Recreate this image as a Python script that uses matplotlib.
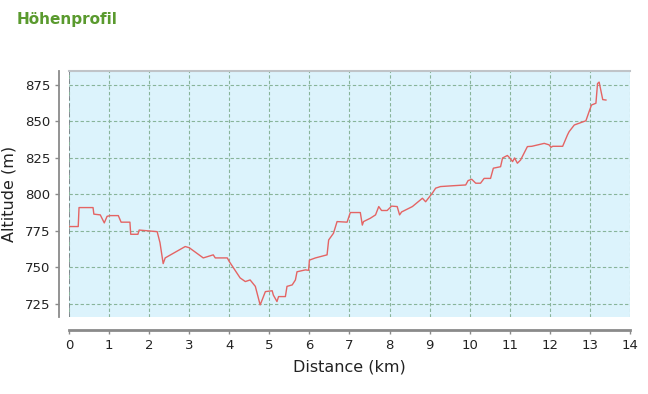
import matplotlib
matplotlib.use('Agg')
import matplotlib.pyplot as plt

# elevation profile
dist_km = [0.0, 0.23, 0.25, 0.6, 0.62, 0.78, 0.88, 0.95, 1.03, 1.23, 1.3, 1.52, 1.54, 1.72, 1.75,
           2.2, 2.27, 2.35, 2.4, 2.9, 3.0, 3.35, 3.6, 3.65, 3.95, 4.0, 4.27, 4.4, 4.52, 4.65, 4.77,
           4.82, 4.9, 5.07, 5.1, 5.19, 5.23, 5.4, 5.44, 5.57, 5.65, 5.69, 5.9, 5.98, 6.0, 6.15,
           6.44, 6.48, 6.6, 6.69, 6.94, 7.02, 7.27, 7.32, 7.35, 7.52, 7.65, 7.73, 7.8, 7.94, 8.05,
           8.19, 8.25, 8.3, 8.57, 8.82, 8.9, 9.07, 9.15, 9.27, 9.6, 9.9, 9.96, 10.05, 10.15, 10.27,
           10.36, 10.52, 10.59, 10.77, 10.82, 10.94, 11.0, 11.07, 11.12, 11.19, 11.27, 11.44, 11.55,
           11.86, 11.98, 12.03, 12.07, 12.32, 12.44, 12.48, 12.61, 12.9, 12.98, 13.04, 13.15, 13.19,
           13.23, 13.32, 13.4]
alt_m = [778, 778, 791, 791, 786.5, 786, 780.5, 785, 785.5, 785.5, 781, 781, 772.7, 772.7, 775.6,
         774.5, 767, 752.6, 756.5, 764.3, 763.5, 756.5, 758.6, 756.5, 756.5, 754, 742.8, 740.3, 741.4,
         737, 724.3, 727.7, 733.4, 734, 731, 726.6, 730, 730, 737, 738, 741.4, 747, 748.3, 748,
         755, 756.5, 758.6, 768.8, 773.4, 781.4, 781, 787.6, 787.6, 779, 781.4, 783.7, 786, 791.7,
         789, 789, 792, 791.7, 786, 788, 791.7, 797.4, 795, 801, 804.3, 805.4, 806, 806.5, 809.5,
         810.4, 807.7, 807.7, 811, 811, 818, 819, 825, 826.7, 825, 822.5, 825, 821.4, 823.6, 832.8,
         833, 835, 834, 832.3, 833, 833, 840.8, 843, 847.6, 850.5, 856.8, 861.3, 862.5, 876, 877,
         865, 864.7]

x_ticks = list(range(0, 15))
y_ticks = [725, 750, 775, 800, 825, 850, 875]

fig = plt.figure(figsize=(6.48, 3.94), dpi=100)
ax = fig.add_axes([0.1065, 0.1954, 0.8657, 0.6244])
ax.set_facecolor('#dcf3fc')

ax.plot(dist_km, alt_m, color='#e46464', linewidth=1.0, zorder=3)

ax.set_xlim(0, 14)
ax.set_ylim(716, 884.6)
ax.set_xticks(x_ticks)
ax.set_yticks(y_ticks)
ax.grid(True, color='#88b49a', linestyle=(0, (3, 2)), linewidth=0.8)
ax.axvline(0, color='#7a8088', linestyle=(0, (3, 2)), linewidth=1.2, zorder=2)

ax.spines['top'].set_color('#c0c4c8')
ax.spines['top'].set_linewidth(1.5)
ax.spines['right'].set_visible(False)
ax.spines['left'].set_position(('outward', 7))
ax.spines['bottom'].set_position(('outward', 9))
ax.spines['left'].set_color('#8a8a8a')
ax.spines['bottom'].set_color('#8a8a8a')
ax.spines['left'].set_linewidth(1.3)
ax.spines['bottom'].set_linewidth(2)
ax.tick_params(axis='both', colors='#8a8a8a', labelcolor='#222222', labelsize=9.5, length=3, width=1)

ax.set_xlabel('Distance (km)', fontsize=11.5, color='#222222', labelpad=6)
ax.set_ylabel('Altitude (m)', fontsize=11.5, color='#222222', labelpad=6)

fig.text(0.026, 0.95, 'Höhenprofil', fontsize=11, fontweight='bold', color='#5a9a2e', va='center')

fig.savefig('out.png', dpi=100)
